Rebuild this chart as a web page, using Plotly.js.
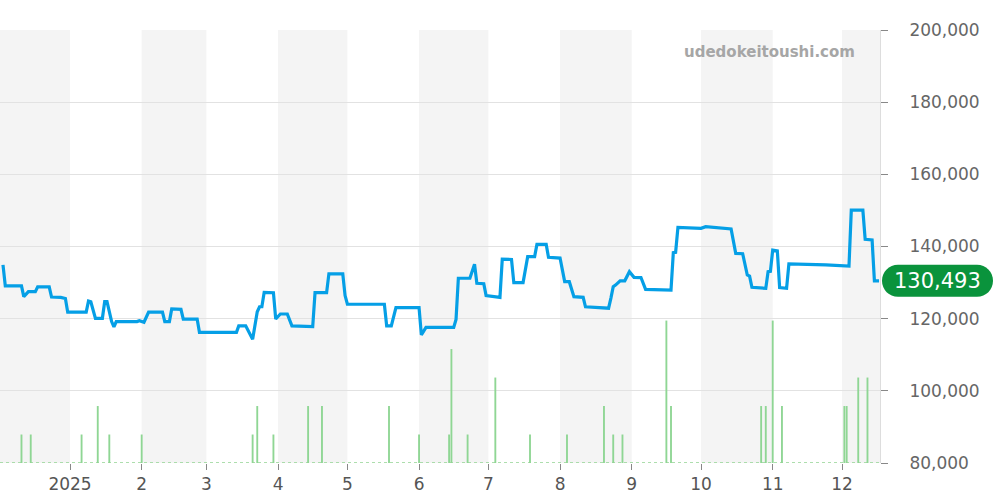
<!DOCTYPE html>
<html>
<head>
<meta charset="utf-8">
<script src="https://cdn.plot.ly/plotly-3.0.1.min.js"></script>
<style>html,body{margin:0;padding:0;background:#fff;}#chart{width:1000px;height:500px;}</style>
</head>
<body>
<div id="chart"></div>
<script>
// ---- data ----
const priceDates = [
 '2024-12-03','2024-12-04','2024-12-11','2024-12-12','2024-12-14','2024-12-17','2024-12-18','2024-12-23','2024-12-24','2024-12-28','2024-12-30','2024-12-31',
 '2025-01-08','2025-01-09','2025-01-10','2025-01-12','2025-01-15','2025-01-16','2025-01-17','2025-01-19','2025-01-20','2025-01-21','2025-01-30','2025-01-31',
 '2025-02-02','2025-02-04','2025-02-10','2025-02-11','2025-02-13','2025-02-14','2025-02-18','2025-02-19','2025-02-25','2025-02-26',
 '2025-03-14','2025-03-15','2025-03-18','2025-03-20','2025-03-21','2025-03-23','2025-03-24','2025-03-25','2025-03-26','2025-03-30','2025-03-31',
 '2025-04-02','2025-04-05','2025-04-07','2025-04-16','2025-04-17','2025-04-22','2025-04-23','2025-04-29','2025-04-30',
 '2025-05-01','2025-05-17','2025-05-18','2025-05-20','2025-05-22',
 '2025-06-01','2025-06-02','2025-06-04','2025-06-16','2025-06-17','2025-06-18','2025-06-23','2025-06-25','2025-06-26','2025-06-29','2025-06-30',
 '2025-07-06','2025-07-07','2025-07-11','2025-07-12','2025-07-16','2025-07-18','2025-07-21','2025-07-22','2025-07-26','2025-07-27',
 '2025-08-01','2025-08-03','2025-08-05','2025-08-07','2025-08-11','2025-08-12','2025-08-22','2025-08-23','2025-08-24','2025-08-25','2025-08-27','2025-08-29','2025-08-31',
 '2025-09-02','2025-09-05','2025-09-07','2025-09-18','2025-09-19','2025-09-20','2025-09-21',
 '2025-10-01','2025-10-03','2025-10-12','2025-10-14','2025-10-16','2025-10-19','2025-10-21','2025-10-22','2025-10-23','2025-10-29','2025-10-30','2025-10-31',
 '2025-11-01','2025-11-03','2025-11-04','2025-11-07','2025-11-08','2025-11-15','2025-11-24',
 '2025-12-04','2025-12-05','2025-12-10','2025-12-11','2025-12-14','2025-12-15','2025-12-17'
];
const priceValues = [
 134900,129100,129100,126100,127500,127500,128800,128800,126000,125900,125600,121800,
 121800,124900,124700,120100,120100,124700,124700,119200,117700,119200,119200,119450,
 119000,121800,121800,119200,119200,122700,122600,119900,119900,116200,
 116200,118000,118000,115200,114300,121900,123300,123300,127300,127200,119900,
 121300,121300,118000,117800,127200,127200,132400,132400,126400,
 124000,124000,118000,118000,123050,
 123050,115500,117600,117600,119800,131200,131200,135100,129800,129700,126400,
 125900,136500,136400,130000,130000,137200,137200,140600,140600,137000,
 136800,130250,130250,126100,125900,123300,122900,125700,128850,129300,130500,130500,133000,
 131450,131400,128100,127900,138300,138400,145300,
 145050,145500,145100,144850,138100,138000,132100,131800,128700,128400,133000,133100,
 139000,138800,128600,128400,135150,135100,134900,
 134600,150100,150100,142000,141800,130493,130493
];
const volumeDates = [
 '2024-12-11','2024-12-15','2025-01-06','2025-01-13','2025-01-18','2025-02-01','2025-03-21','2025-03-23','2025-03-30',
 '2025-04-14','2025-04-20','2025-05-19','2025-06-01','2025-06-14','2025-06-15','2025-06-22','2025-07-04','2025-07-19',
 '2025-08-04','2025-08-20','2025-08-24','2025-08-28','2025-09-16','2025-09-18','2025-10-27','2025-10-29','2025-11-01',
 '2025-11-05','2025-12-02','2025-12-03','2025-12-08','2025-12-12'
];
const volumeCounts = [
 1,1,1,2,1,1,1,2,1,
 2,2,2,1,1,4,1,3,1,
 1,2,1,1,5,2,2,2,5,
 2,2,2,3,3
];
const monthTicks = ['2025-01-01','2025-02-01','2025-03-01','2025-04-01','2025-05-01','2025-06-01','2025-07-01','2025-08-01','2025-09-01','2025-10-01','2025-11-01','2025-12-01'];
const monthLabels = ['2025','2','3','4','5','6','7','8','9','10','11','12'];
const shadedMonthStarts = ['2024-12-01','2025-02-01','2025-04-01','2025-06-01','2025-08-01','2025-10-01','2025-12-01'];
const yTicks = [80000,100000,120000,140000,160000,180000,200000];
const lastLabel = '130,493';

// ---- layout helpers ----
const xRange = ['2024-12-01 17:00','2025-12-17 10:00'];
function nextMonth(d){
  const dt = new Date(d + 'T00:00:00Z');
  dt.setUTCMonth(dt.getUTCMonth() + 1);
  return dt.toISOString().slice(0,10);
}
const shapes = shadedMonthStarts.map(s => {
  let e = nextMonth(s);
  if (new Date(e) > new Date(xRange[1].replace(' ','T') + 'Z')) e = xRange[1];
  return {type:'rect', xref:'x', yref:'paper', x0:s, x1:e, y0:0, y1:1,
          fillcolor:'#f4f4f4', line:{width:0}, layer:'below'};
});
// dotted baseline of the volume bars
shapes.push({type:'line', xref:'paper', yref:'y', x0:0, x1:1, y0:yTicks[0], y1:yTicks[0],
  line:{color:'#93d393', width:1.5, dash:'dot'}, layer:'above'});
// pill behind last price label
const lastVal = priceValues[priceValues.length-1];
shapes.push({type:'path', xref:'paper', yref:'y', xsizemode:'pixel', ysizemode:'pixel',
  xanchor:1, yanchor:lastVal,
  path:'M 18,-16 L 97,-16 C 106,-16 113,-9 113,0 C 113,9 106,16 97,16 L 18,16 C 9,16 2,9 2,0 C 2,-9 9,-16 18,-16 Z',
  fillcolor:'#0a933c', line:{width:0}, layer:'above'});

const traces = [
  {type:'bar', x:volumeDates, y:volumeCounts, yaxis:'y2',
   marker:{color:'#8fd694', line:{width:0}}, width:70000000, hoverinfo:'skip'},
  {type:'scatter', mode:'lines', x:priceDates, y:priceValues, yaxis:'y',
   line:{color:'#059fe6', width:3.2}, hoverinfo:'skip'}
];

const layout = {
  width:1000, height:500,
  margin:{l:0, r:120, t:30, b:37},
  paper_bgcolor:'#ffffff', plot_bgcolor:'#ffffff',
  showlegend:false,
  font:{family:'DejaVu Sans, sans-serif', color:'#555'},
  xaxis:{type:'date', range:xRange, tickvals:monthTicks, ticktext:monthLabels,
    ticks:'outside', ticklen:6, tickcolor:'#888', showgrid:false, zeroline:false, showline:false,
    tickfont:{size:17, color:'#555'}},
  yaxis:{side:'right', range:[yTicks[0], yTicks[yTicks.length-1]], tickvals:yTicks, tickformat:',',
    ticks:'outside', ticklen:7, tickcolor:'#888', gridcolor:'#e2e2e2', zeroline:false,
    showline:true, linecolor:'#dddddd', linewidth:1, ticklabelstandoff:18,
    tickfont:{size:17, color:'#666'}},
  yaxis2:{overlaying:'y', range:[0,15.2], visible:false, fixedrange:true},
  shapes:shapes,
  annotations:[
    {xref:'paper', yref:'paper', x:0.974, y:0.949, xanchor:'right', yanchor:'middle',
     text:'<b>udedokeitoushi.com</b>', showarrow:false, font:{size:15, color:'#a6a6a6', family:'DejaVu Sans, sans-serif'}},
    {xref:'paper', yref:'y', x:1, y:lastVal, xanchor:'center', yanchor:'middle', xshift:57,
     text:lastLabel, showarrow:false, font:{size:21, color:'#ffffff', family:'DejaVu Sans, sans-serif'}}
  ]
};

Plotly.newPlot('chart', traces, layout, {staticPlot:true, displayModeBar:false});
</script>
</body>
</html>
